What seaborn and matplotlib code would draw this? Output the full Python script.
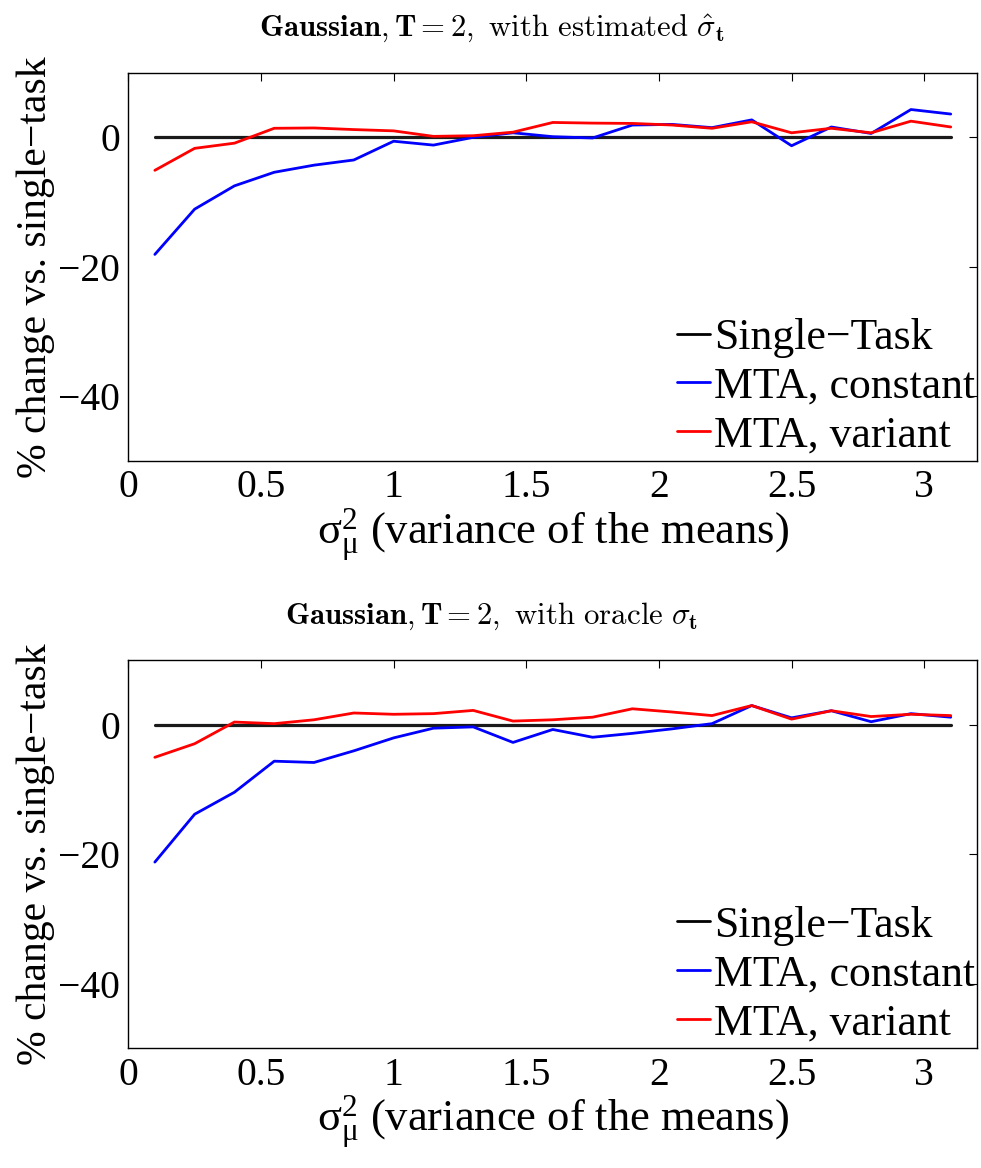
import numpy as np
import pandas as pd
import matplotlib
matplotlib.use("Agg")
import matplotlib.pyplot as plt
import seaborn as sns

# Variance of the task means (x grid)
sigma_mu2 = [0.10, 0.25, 0.40, 0.55, 0.70, 0.85, 1.00, 1.15, 1.30, 1.45, 1.60,
             1.75, 1.90, 2.05, 2.20, 2.35, 2.50, 2.65, 2.80, 2.95, 3.10]

# % change vs. single-task, estimated sigma
est_single = [0.0] * 21
est_constant = [-18.1, -11.1, -7.5, -5.4, -4.3, -3.5, -0.6, -1.2, 0.0, 0.7, 0.1,
                -0.1, 1.9, 2.0, 1.5, 2.7, -1.3, 1.6, 0.6, 4.3, 3.6]
est_variant = [-5.1, -1.7, -0.9, 1.4, 1.45, 1.2, 1.0, 0.15, 0.25, 0.8, 2.3,
               2.2, 2.15, 1.9, 1.4, 2.4, 0.7, 1.4, 0.7, 2.5, 1.6]

# % change vs. single-task, oracle sigma
ora_single = [0.0] * 21
ora_constant = [-21.2, -13.8, -10.4, -5.6, -5.8, -4.0, -2.0, -0.5, -0.3, -2.7, -0.7,
                -1.9, -1.3, -0.6, 0.2, 3.0, 1.1, 2.2, 0.5, 1.75, 1.2]
ora_variant = [-5.0, -2.9, 0.45, 0.2, 0.8, 1.85, 1.65, 1.75, 2.25, 0.6, 0.8,
               1.2, 2.5, 2.0, 1.45, 3.0, 0.9, 2.2, 1.3, 1.65, 1.45]

series_names = ["Single\u2212Task", "MTA, constant", "MTA, variant"]
series_colors = ["#000000", "#0000ff", "#ff0000"]
x_ticks = [0, 0.5, 1, 1.5, 2, 2.5, 3]
x_tick_labels = ["0", "0.5", "1", "1.5", "2", "2.5", "3"]
y_ticks = [-40, -20, 0]

titles = [
    r"$\mathbf{Gaussian}, \mathbf{T = 2},\ \mathrm{with\ estimated}\ \hat{\sigma}_{\mathbf{t}}$",
    r"$\mathbf{Gaussian}, \mathbf{T = 2},\ \mathrm{with\ oracle}\ \sigma_{\mathbf{t}}$",
]

sns.set_theme(style="white")
plt.rcParams["font.family"] = ["Liberation Serif", "DejaVu Serif"]
plt.rcParams["mathtext.fontset"] = "custom"
plt.rcParams["mathtext.rm"] = "Liberation Serif"
plt.rcParams["mathtext.it"] = "Liberation Serif:italic"
plt.rcParams["mathtext.bf"] = "Liberation Serif:bold"
for key in ["text.color", "axes.labelcolor", "xtick.color", "ytick.color",
            "axes.edgecolor"]:
    plt.rcParams[key] = "black"


def long_frame(single, constant, variant):
    frames = []
    for name, vals in zip(series_names, [single, constant, variant]):
        frames.append(pd.DataFrame({"x": sigma_mu2, "y": vals, "series": name}))
    return pd.concat(frames, ignore_index=True)


fig = plt.figure(figsize=(9.81, 11.68), dpi=100)
ax_top = fig.add_axes([0.1308, 0.6055, 0.8654, 0.3323])
ax_bot = fig.add_axes([0.1308, 0.1024, 0.8654, 0.3323])

datasets = [
    (est_single, est_constant, est_variant),
    (ora_single, ora_constant, ora_variant),
]

tick_fs = 28.5
legend_fs = 31.5
for ax, data, title in zip([ax_top, ax_bot], datasets, titles):
    df = long_frame(*data)
    sns.lineplot(data=df, x="x", y="y", hue="series", hue_order=series_names,
                 palette=dict(zip(series_names, series_colors)), ax=ax,
                 legend=False, linewidth=2.0, estimator=None, sort=False)
    lines = ax.get_lines()
    lines[0].set_linewidth(2.3)
    lines[0].set_color("#1a1a1a")

    ax.set_xlim(0, 3.2)
    ax.set_ylim(-50, 10)
    ax.set_xticks(x_ticks)
    ax.set_xticklabels(x_tick_labels)
    ax.set_yticks(y_ticks)
    ax.tick_params(direction="in", length=6, width=0.8, top=True, right=True,
                   labelsize=tick_fs, pad=6, colors="black")
    for sp in ax.spines.values():
        sp.set_visible(True)
        sp.set_color("black")
        sp.set_linewidth(1.0)

    ax.set_xlabel(r"$\mathrm{\sigma}^2_{\mathrm{\mu}}$ (variance of the means)",
                  fontsize=32, labelpad=0)
    ax.set_ylabel("% change vs. single\u2212task", fontsize=30, labelpad=2)
    ax.set_title(title, fontsize=22.2, pad=26, x=0.428, math_fontfamily="cm")

    handles = [plt.Line2D([], [], color=c, linewidth=2.0) for c in series_colors]
    ax.legend(handles, series_names, loc="upper left",
              bbox_to_anchor=(0.646, 0.368), frameon=False, fontsize=legend_fs,
              handlelength=0.75, handletextpad=0.1, borderpad=0,
              borderaxespad=0, labelspacing=0.2)

fig.savefig("out.png", dpi=100)
